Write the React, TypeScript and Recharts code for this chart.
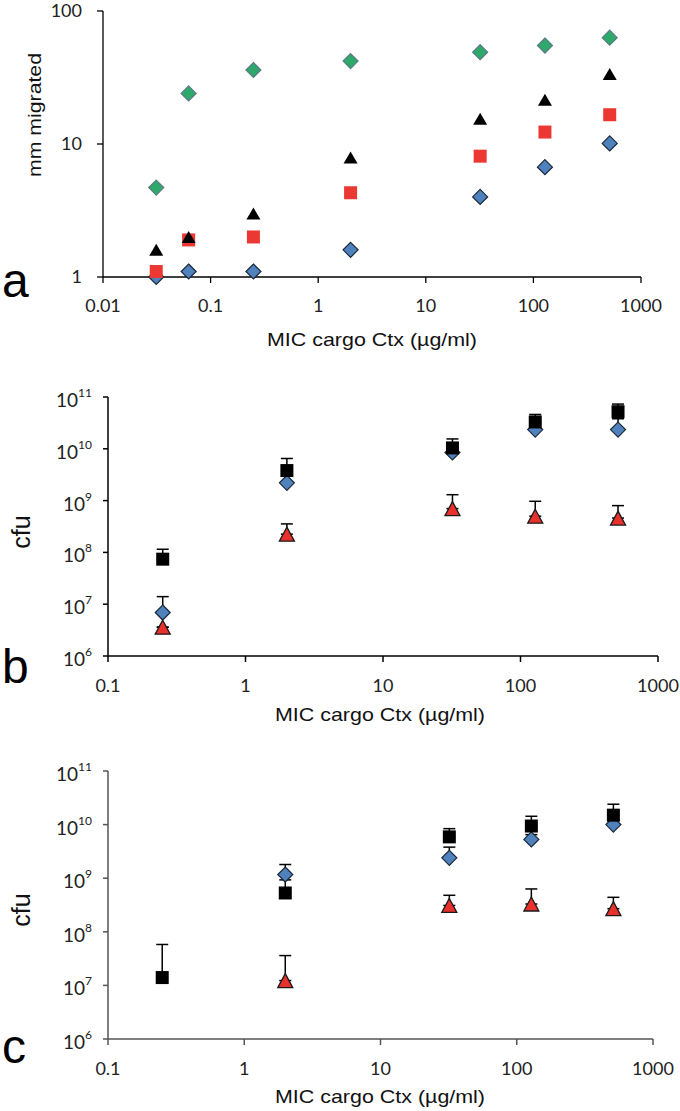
import React from 'react';
import { ScatterChart, Scatter, XAxis, YAxis, ErrorBar } from 'recharts';

// panel a: migration (mm) vs MIC of the cargo
const xA = [0.03125, 0.0625, 0.25, 2, 32, 128, 512];
const greenA = [4.7, 24, 36, 42, 49, 55, 63];
const blackA = [1.6, 2.0, 3.0, 7.9, 15.5, 21.5, 33.6];
const redA = [1.1, 1.9, 2.0, 4.3, 8.1, 12.3, 16.6];
const blueA = [1.0, 1.1, 1.1, 1.6, 4.0, 6.7, 10.1];
const ticksXA = [0.01, 0.1, 1, 10, 100, 1000];
const ticksYA = [1, 10, 100];

// panel b: cfu, mean + upper error
const xB = [0.25, 2, 32, 128, 512];
const squareB = [7.4e7, 3.8e9, 1.04e10, 3.3e10, 5.2e10];
const squareBHi = [1.15e8, 6.5e9, 1.55e10, 4.6e10, 7.3e10];
const diamondB = [6.9e6, 2.2e9, 8.5e9, 2.35e10, 2.35e10];
const diamondBHi = [1.4e7, 3.0e9, 1.1e10, 3.0e10, 3.8e10];
const triangleB = [3.6e6, 2.25e8, 7.0e8, 5.0e8, 4.6e8];
const triangleBHi = [3.6e6, 3.55e8, 1.3e9, 9.7e8, 8.0e8];

// panel c
const xC = [0.25, 2, 32, 128, 512];
const squareC = [1.4e7, 5.3e8, 5.9e9, 9.4e9, 1.5e10];
const squareCHi = [5.8e7, 9.3e8, 8.4e9, 1.43e10, 2.4e10];
const diamondC = [null, 1.17e9, 2.4e9, 5.3e9, 1.0e10];
const diamondCHi = [null, 1.8e9, 3.8e9, 6.5e9, 1.2e10];
const triangleC = [null, 1.23e7, 3.1e8, 3.3e8, 2.7e8];
const triangleCHi = [null, 3.6e7, 4.8e8, 6.3e8, 4.4e8];

const ticksXBC = [0.1, 1, 10, 100, 1000];
const ticksYBC = [1e6, 1e7, 1e8, 1e9, 1e10, 1e11];

const TICK_FONT = "Lato, 'Open Sans', sans-serif";
const TITLE_FONT = "'Liberation Sans', Arial, sans-serif";

type Pt = { x: number; y: number; err: [number, number] };

function toPoints(xs: number[], ys: (number | null)[], hi?: (number | null)[]): Pt[] {
  const out: Pt[] = [];
  xs.forEach((x, i) => {
    const y = ys[i];
    if (y == null) return;
    const h = hi ? hi[i] : null;
    out.push({ x, y, err: [0, h != null ? Math.max(h - y, 0) : 0] });
  });
  return out;
}

const diamond = (fill: string, stroke: string, r: number) => (p: any) => (
  <path
    d={`M${p.cx},${p.cy - r}L${p.cx + r},${p.cy}L${p.cx},${p.cy + r}L${p.cx - r},${p.cy}Z`}
    fill={fill}
    stroke={stroke}
    strokeWidth={1.2}
  />
);

const square = (fill: string, s: number) => (p: any) => (
  <rect x={p.cx - s} y={p.cy - s} width={s * 2} height={s * 2} fill={fill} />
);

const triangle = (fill: string, stroke: string, w: number, h: number) => (p: any) => (
  <path
    d={`M${p.cx},${p.cy - h / 2}L${p.cx + w / 2},${p.cy + h / 2}L${p.cx - w / 2},${p.cy + h / 2}Z`}
    fill={fill}
    stroke={stroke}
    strokeWidth={stroke === 'none' ? 0 : 1.3}
    strokeLinejoin="miter"
  />
);

const fmtX = (v: number) => String(v);

const PowTick = (props: any) => {
  const { x, y, payload } = props;
  const exp = Math.round(Math.log10(payload.value));
  return (
    <text x={x} y={y + 10} textAnchor="end" fontFamily={TICK_FONT} fontSize={19} fill="#222">
      10
      <tspan dy={-10} fontSize={12}>
        {exp}
      </tspan>
    </text>
  );
};

const XTitle = ({ x, y }: { x: number; y: number }) => (
  <text
    x={x}
    y={y}
    textAnchor="middle"
    fontFamily={TITLE_FONT}
    fontSize={19}
    fill="#111"
    textLength={210}
    lengthAdjust="spacingAndGlyphs"
  >
    MIC cargo Ctx (µg/ml)
  </text>
);

const PanelLetter = ({ x, y, t, size }: { x: number; y: number; t: string; size: number }) => (
  <text x={x} y={y} fontFamily={TITLE_FONT} fontSize={size} fill="#000">
    {t}
  </text>
);

function PanelA() {
  return (
    <ScatterChart width={680} height={350} margin={{ top: 11, right: 39, bottom: 0, left: 0 }}>
      <XAxis
        type="number"
        dataKey="x"
        scale="log"
        domain={[0.01, 1000]}
        ticks={ticksXA}
        tickFormatter={fmtX}
        height={73}
        tickSize={6}
        tickMargin={16}
        axisLine={{ stroke: '#000', strokeWidth: 1.3 }}
        tickLine={{ stroke: '#000', strokeWidth: 1.3 }}
        tick={{ fontFamily: TICK_FONT, fontSize: 18, fill: '#222' }}
        interval={0}
      />
      <YAxis
        type="number"
        dataKey="y"
        scale="log"
        domain={[1, 100]}
        ticks={ticksYA}
        width={103}
        tickSize={6}
        tickMargin={15}
        axisLine={{ stroke: '#000', strokeWidth: 1.3 }}
        tickLine={{ stroke: '#000', strokeWidth: 1.3 }}
        tick={{ fontFamily: TICK_FONT, fontSize: 18, fill: '#222' }}
        interval={0}
      />
      <Scatter data={toPoints(xA, blueA)} shape={diamond('#4f81bd', '#1b2838', 7.5)} isAnimationActive={false} />
      <Scatter data={toPoints(xA, redA)} shape={square('#ec3832', 6.5)} isAnimationActive={false} />
      <Scatter data={toPoints(xA, blackA)} shape={triangle('#000', 'none', 14, 12)} isAnimationActive={false} />
      <Scatter data={toPoints(xA, greenA)} shape={diamond('#2fa86b', '#5b7b84', 7.5)} isAnimationActive={false} />
      <text
        transform="translate(41,115) rotate(-90)"
        textAnchor="middle"
        fontFamily={TITLE_FONT}
        fontSize={19}
        fill="#111"
        textLength={124}
        lengthAdjust="spacingAndGlyphs"
      >
        mm migrated
      </text>
      <XTitle x={372} y={346} />
      <PanelLetter x={2} y={297} t="a" size={48} />
    </ScatterChart>
  );
}

function CfuPanel({
  height,
  top,
  right,
  xAxisH,
  axisColor,
  sq,
  dm,
  tr,
  titleY,
  cfuY,
  letter,
  letterY,
}: {
  height: number;
  top: number;
  right: number;
  xAxisH: number;
  axisColor: string;
  sq: Pt[];
  dm: Pt[];
  tr: Pt[];
  titleY: number;
  cfuY: number;
  letter: string;
  letterY: number;
}) {
  const err = <ErrorBar dataKey="err" direction="y" width={6} stroke="#000" strokeWidth={1.5} />;
  return (
    <ScatterChart width={680} height={height} margin={{ top, right, bottom: 0, left: 0 }}>
      <XAxis
        type="number"
        dataKey="x"
        scale="log"
        domain={[0.1, 1000]}
        ticks={ticksXBC}
        tickFormatter={fmtX}
        height={xAxisH}
        tickSize={6}
        tickMargin={17}
        axisLine={{ stroke: axisColor, strokeWidth: 1.5 }}
        tickLine={{ stroke: axisColor, strokeWidth: 1.5 }}
        tick={{ fontFamily: TICK_FONT, fontSize: 18, fill: '#222' }}
        interval={0}
      />
      <YAxis
        type="number"
        dataKey="y"
        scale="log"
        domain={[1e6, 1e11]}
        ticks={ticksYBC}
        width={108}
        tickSize={5}
        tickMargin={11}
        axisLine={{ stroke: axisColor, strokeWidth: 1.5 }}
        tickLine={{ stroke: axisColor, strokeWidth: 1.5 }}
        tick={<PowTick />}
        interval={0}
      />
      <Scatter data={dm} shape={diamond('#4f81bd', '#1b2838', 7.5)} isAnimationActive={false}>
        {err}
      </Scatter>
      <Scatter data={sq} shape={square('#000', 6.5)} isAnimationActive={false}>
        {err}
      </Scatter>
      <Scatter data={tr} shape={triangle('#e8312d', '#1a1a1a', 15, 14)} isAnimationActive={false}>
        {err}
      </Scatter>
      <text
        transform={`translate(30,${cfuY}) rotate(-90)`}
        textAnchor="middle"
        fontFamily={TITLE_FONT}
        fontSize={25}
        fill="#111"
      >
        cfu
      </text>
      <XTitle x={380} y={titleY} />
      <PanelLetter x={2} y={letterY} t={letter} size={48} />
    </ScatterChart>
  );
}

export default function App() {
  return (
    <div style={{ position: 'absolute', left: 0, top: 0, width: 680, height: 1111, background: '#fff' }}>
      <div style={{ position: 'absolute', left: 0, top: 0 }}>
        <PanelA />
      </div>
      <div style={{ position: 'absolute', left: 0, top: 350 }}>
        <CfuPanel
          height={380}
          top={47}
          right={22}
          xAxisH={74}
          axisColor="#000"
          sq={toPoints(xB, squareB, squareBHi)}
          dm={toPoints(xB, diamondB, diamondBHi)}
          tr={toPoints(xB, triangleB, triangleBHi)}
          titleY={371}
          cfuY={182}
          letter="b"
          letterY={333}
        />
      </div>
      <div style={{ position: 'absolute', left: 0, top: 730 }}>
        <CfuPanel
          height={381}
          top={41}
          right={27}
          xAxisH={72}
          axisColor="#555"
          sq={toPoints(xC, squareC, squareCHi)}
          dm={toPoints(xC, diamondC, diamondCHi)}
          tr={toPoints(xC, triangleC, triangleCHi)}
          titleY={373}
          cfuY={180}
          letter="c"
          letterY={333}
        />
      </div>
    </div>
  );
}
